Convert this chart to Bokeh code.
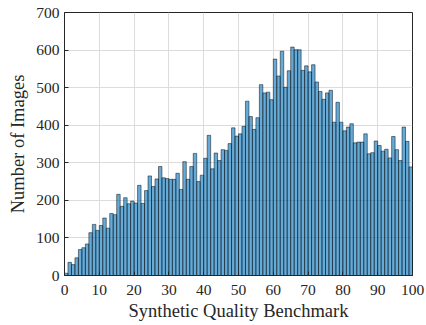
from bokeh.plotting import figure
from bokeh.embed import file_html
from bokeh.resources import INLINE
from bokeh.models import Range1d, FixedTicker

bin_left = list(range(0, 100))
counts = [6, 35, 29, 47, 69, 74, 84, 114, 136, 120,
          133, 153, 126, 165, 162, 216, 184, 207, 191, 198,
          193, 240, 192, 226, 265, 237, 257, 290, 260, 258,
          256, 256, 272, 229, 303, 256, 290, 325, 250, 267,
          312, 373, 284, 326, 306, 335, 333, 351, 393, 371,
          377, 397, 464, 423, 389, 420, 508, 486, 488, 468,
          576, 531, 597, 501, 545, 608, 601, 601, 546, 558,
          542, 561, 515, 490, 469, 486, 493, 408, 461, 408,
          385, 395, 404, 353, 355, 355, 377, 324, 327, 358,
          346, 331, 336, 313, 370, 335, 306, 395, 357, 289]
bin_width = 1
x_ticks = [0, 10, 20, 30, 40, 50, 60, 70, 80, 90, 100]
y_ticks = [0, 100, 200, 300, 400, 500, 600, 700]

FONT = "Liberation Serif"
DARK = "#262626"

p = figure(width=426, height=325, output_backend="svg", toolbar_location=None,
           x_range=Range1d(0, 100), y_range=Range1d(0, 700))
p.min_border_left = 64
p.min_border_right = 14
p.min_border_top = 12
p.min_border_bottom = 50

right = [b + bin_width for b in bin_left]
bottom = [0] * len(bin_left)
p.quad(left=bin_left, right=right, top=counts, bottom=bottom,
       fill_color=(0, 114, 189), fill_alpha=0.6,
       line_color="black", line_width=0.6, line_alpha=0.8)

p.xaxis.ticker = FixedTicker(ticks=x_ticks)
p.yaxis.ticker = FixedTicker(ticks=y_ticks)
for ax in (p.xaxis, p.yaxis):
    ax.axis_line_color = DARK
    ax.major_tick_line_color = DARK
    ax.major_tick_in = 4
    ax.major_tick_out = 0
    ax.minor_tick_line_color = None
    ax.major_label_text_font = FONT
    ax.major_label_text_font_size = "15.5px"
    ax.major_label_text_color = DARK
    ax.axis_label_text_font = FONT
    ax.axis_label_text_font_size = "18.5px"
    ax.axis_label_text_font_style = "normal"
    ax.axis_label_text_color = DARK
p.xaxis.axis_label = "Synthetic Quality Benchmark"
p.yaxis.axis_label = "Number of Images"
p.xaxis.major_label_standoff = 9
p.yaxis.major_label_standoff = 5
p.xaxis.axis_label_standoff = 3
p.yaxis.axis_label_standoff = 5

p.xgrid.ticker = FixedTicker(ticks=x_ticks)
p.ygrid.ticker = FixedTicker(ticks=y_ticks)
p.grid.grid_line_color = "#dcdcdc"
p.grid.grid_line_width = 1
p.outline_line_color = DARK
p.outline_line_width = 1
p.background_fill_color = "white"
p.border_fill_color = "white"

open("out.html", "w").write(file_html(p, INLINE))
